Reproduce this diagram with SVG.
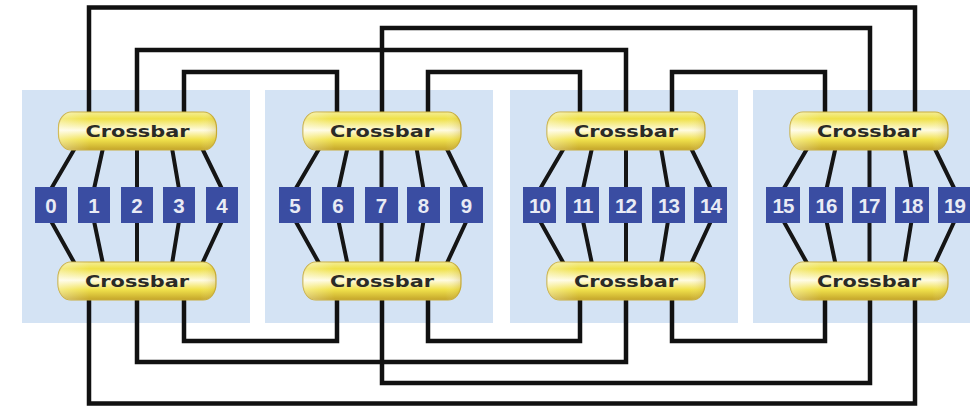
<svg xmlns="http://www.w3.org/2000/svg" width="970" height="408" viewBox="0 0 970 408">
<defs>
<linearGradient id="gold" x1="0" y1="0" x2="0" y2="1">
<stop offset="0" stop-color="#f4ee96"/>
<stop offset="0.18" stop-color="#efe148"/>
<stop offset="0.48" stop-color="#fffbe2"/>
<stop offset="0.72" stop-color="#f1e24c"/>
<stop offset="1" stop-color="#c4a52a"/>
</linearGradient>
<linearGradient id="shine" x1="0" y1="0" x2="1" y2="0">
<stop offset="0" stop-color="#ffffff" stop-opacity="0.35"/>
<stop offset="0.2" stop-color="#ffffff" stop-opacity="0"/>
<stop offset="0.9" stop-color="#ffffff" stop-opacity="0"/>
<stop offset="1" stop-color="#b08a10" stop-opacity="0.25"/>
</linearGradient>
<g id="xbar">
<rect x="-79" y="-19" width="158" height="38" rx="13" ry="16" fill="url(#gold)" stroke="#c9ae3a" stroke-width="1.2"/>
<rect x="-79" y="-19" width="158" height="38" rx="13" ry="16" fill="url(#shine)"/>
</g>
</defs>
<style>
.panel{fill:#d4e3f4}
.wire{fill:none;stroke:#111;stroke-width:4.5;stroke-linejoin:miter}
.fan{stroke:#151515;stroke-width:4;fill:none}
.xtxt{font-family:"DejaVu Sans","Liberation Sans",sans-serif;font-weight:bold;font-size:15px;fill:#2b2b26;text-anchor:middle}
.box{fill:#3a4da2}
.num{font-family:"Liberation Sans",Arial,sans-serif;font-weight:bold;font-size:20.5px;fill:#e9ebf5;text-anchor:middle}
</style>
<rect width="970" height="408" fill="#ffffff"/>
<g id="panels">
<rect class="panel" x="22" y="90" width="228" height="233"/>
<rect class="panel" x="265" y="90" width="228" height="233"/>
<rect class="panel" x="510" y="90" width="228" height="233"/>
<rect class="panel" x="753" y="90" width="217" height="233"/>
</g>
<g id="connectors">
<path class="wire" d="M89 112V7.5H915V112"/>
<path class="wire" d="M382 112V28H870V112"/>
<path class="wire" d="M137 112V50H626V112"/>
<path class="wire" d="M184 112V72H337V112"/>
<path class="wire" d="M428 112V72H580V112"/>
<path class="wire" d="M672 112V72H825V112"/>
<path class="wire" d="M89 300V403.5H915V300"/>
<path class="wire" d="M382 300V383H870V300"/>
<path class="wire" d="M137 300V362H626V300"/>
<path class="wire" d="M184 300V341H337V300"/>
<path class="wire" d="M428 300V341H580V300"/>
<path class="wire" d="M672 300V341H825V300"/>
<g id="fans1" transform="translate(137 0)">
<path class="fan" d="M-62 148L-86 189M-34 148L-43 189M0 148V189M35 148L42 189M65 148L85 189"/>
<path class="fan" d="M-86 221L-62 264M-43 221L-34 264M0 221V264M42 221L35 264M85 221L65 264"/>
</g>
<g id="fans2" transform="translate(381.5 0)">
<path class="fan" d="M-62 148L-86 189M-34 148L-43 189M0 148V189M35 148L42 189M65 148L85 189"/>
<path class="fan" d="M-86 221L-62 264M-43 221L-34 264M0 221V264M42 221L35 264M85 221L65 264"/>
</g>
<g id="fans3" transform="translate(626 0)">
<path class="fan" d="M-62 148L-86 189M-34 148L-43 189M0 148V189M35 148L42 189M65 148L85 189"/>
<path class="fan" d="M-86 221L-62 264M-43 221L-34 264M0 221V264M42 221L35 264M85 221L65 264"/>
</g>
<g id="fans4" transform="translate(869.5 0)">
<path class="fan" d="M-62 148L-86 189M-34 148L-43 189M0 148V189M35 148L42 189M65 148L85 189"/>
<path class="fan" d="M-86 221L-62 264M-43 221L-34 264M0 221V264M42 221L35 264M85 221L65 264"/>
</g>
</g>
<g id="crossbar-top-1" transform="translate(137.5 131)"><use href="#xbar"/><text class="xtxt" y="5.5" textLength="104" lengthAdjust="spacingAndGlyphs">Crossbar</text></g>
<g id="crossbar-top-2" transform="translate(382 131)"><use href="#xbar"/><text class="xtxt" y="5.5" textLength="104" lengthAdjust="spacingAndGlyphs">Crossbar</text></g>
<g id="crossbar-top-3" transform="translate(626 131)"><use href="#xbar"/><text class="xtxt" y="5.5" textLength="104" lengthAdjust="spacingAndGlyphs">Crossbar</text></g>
<g id="crossbar-top-4" transform="translate(869 131)"><use href="#xbar"/><text class="xtxt" y="5.5" textLength="104" lengthAdjust="spacingAndGlyphs">Crossbar</text></g>
<g id="crossbar-bot-1" transform="translate(137 281)"><use href="#xbar"/><text class="xtxt" y="5.5" textLength="104" lengthAdjust="spacingAndGlyphs">Crossbar</text></g>
<g id="crossbar-bot-2" transform="translate(382 281)"><use href="#xbar"/><text class="xtxt" y="5.5" textLength="104" lengthAdjust="spacingAndGlyphs">Crossbar</text></g>
<g id="crossbar-bot-3" transform="translate(626 281)"><use href="#xbar"/><text class="xtxt" y="5.5" textLength="104" lengthAdjust="spacingAndGlyphs">Crossbar</text></g>
<g id="crossbar-bot-4" transform="translate(869 281)"><use href="#xbar"/><text class="xtxt" y="5.5" textLength="104" lengthAdjust="spacingAndGlyphs">Crossbar</text></g>
<g id="node-0"><rect class="box" x="35" y="187" width="32" height="36"/><text class="num" x="51" y="212.5">0</text></g>
<g id="node-1"><rect class="box" x="78" y="187" width="32" height="36"/><text class="num" x="94" y="212.5">1</text></g>
<g id="node-2"><rect class="box" x="121" y="187" width="32" height="36"/><text class="num" x="137" y="212.5">2</text></g>
<g id="node-3"><rect class="box" x="163" y="187" width="32" height="36"/><text class="num" x="179" y="212.5">3</text></g>
<g id="node-4"><rect class="box" x="206" y="187" width="32" height="36"/><text class="num" x="222" y="212.5">4</text></g>
<g id="node-5"><rect class="box" x="279" y="187" width="32" height="36"/><text class="num" x="295" y="212.5">5</text></g>
<g id="node-6"><rect class="box" x="322" y="187" width="32" height="36"/><text class="num" x="338" y="212.5">6</text></g>
<g id="node-7"><rect class="box" x="365" y="187" width="33" height="36"/><text class="num" x="381.5" y="212.5">7</text></g>
<g id="node-8"><rect class="box" x="407" y="187" width="33" height="36"/><text class="num" x="423.5" y="212.5">8</text></g>
<g id="node-9"><rect class="box" x="450" y="187" width="33" height="36"/><text class="num" x="466.5" y="212.5">9</text></g>
<g id="node-10"><rect class="box" x="523" y="187" width="33" height="36"/><text class="num" x="539.5" y="212.5" letter-spacing="-1">10</text></g>
<g id="node-11"><rect class="box" x="566" y="187" width="33" height="36"/><text class="num" x="582.5" y="212.5" letter-spacing="-1">11</text></g>
<g id="node-12"><rect class="box" x="609" y="187" width="33" height="36"/><text class="num" x="625.5" y="212.5" letter-spacing="-1">12</text></g>
<g id="node-13"><rect class="box" x="652" y="187" width="33" height="36"/><text class="num" x="668.5" y="212.5" letter-spacing="-1">13</text></g>
<g id="node-14"><rect class="box" x="694" y="187" width="33" height="36"/><text class="num" x="710.5" y="212.5" letter-spacing="-1">14</text></g>
<g id="node-15"><rect class="box" x="766" y="187" width="34" height="36"/><text class="num" x="783" y="212.5" letter-spacing="-1">15</text></g>
<g id="node-16"><rect class="box" x="809" y="187" width="34" height="36"/><text class="num" x="826" y="212.5" letter-spacing="-1">16</text></g>
<g id="node-17"><rect class="box" x="852" y="187" width="34" height="36"/><text class="num" x="869" y="212.5" letter-spacing="-1">17</text></g>
<g id="node-18"><rect class="box" x="895" y="187" width="34" height="36"/><text class="num" x="912" y="212.5" letter-spacing="-1">18</text></g>
<g id="node-19"><rect class="box" x="938" y="187" width="33" height="36"/><text class="num" x="954.5" y="212.5" letter-spacing="-1">19</text></g>
</svg>
